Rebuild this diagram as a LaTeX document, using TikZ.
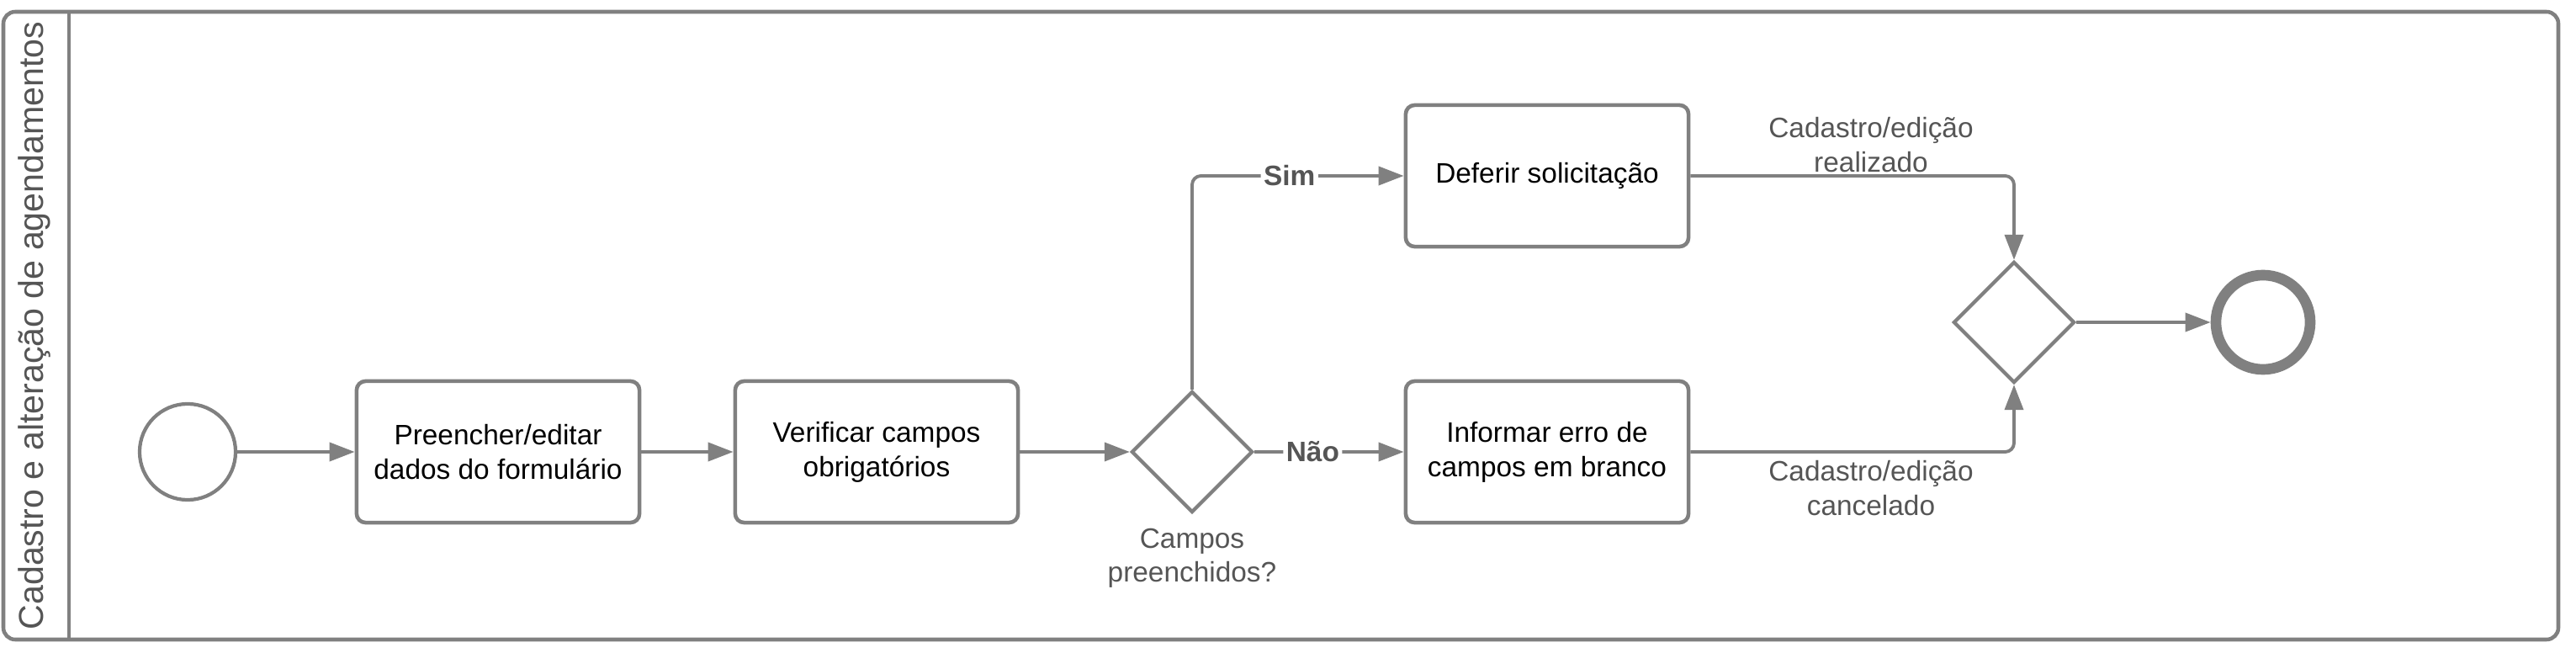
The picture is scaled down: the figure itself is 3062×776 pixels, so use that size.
\documentclass[tikz,border=0pt]{standalone}
\usepackage{fontspec}
\setmainfont{Liberation Sans}
\usetikzlibrary{positioning, calc, arrows.meta, shapes.geometric}
\definecolor{lanegray}{RGB}{128, 128, 128}
\definecolor{textgray}{RGB}{85, 85, 85}

\begin{document}
\begin{tikzpicture}[
                x=0.01cm, y=-0.01cm,
                % Style para as tarefas
                tasknode/.style={
                    rectangle, rounded corners=3pt,
                    draw=lanegray, line width=1.3pt,
                    fill=white,
                    text=black, font=\fontsize{9.5}{11.6}\selectfont,
                    align=center,
                    minimum width=3.36cm, minimum height=1.68cm, inner sep=0pt
                },
                % Style para os gateways
                gatenode/.style={
                    diamond,
                    draw=lanegray, line width=1.2pt,
                    fill=white,
                    minimum size=1.44cm, inner sep=0pt
                },
                % Eventos de inicio e fim
                startnode/.style={
                    circle, draw=lanegray, line width=1.2pt,
                    minimum size=1.14cm, inner sep=0pt
                },
                endnode/.style={
                    circle, draw=lanegray, line width=3.6pt,
                    minimum size=1.12cm, inner sep=0pt
                },
                % Style para os fluxos
                flowedge/.style={
                    -{Triangle[length=0.3cm, width=0.22cm]},
                    line width=1.1pt, color=lanegray, rounded corners=3pt
                },
                % Textos cinza
                lbl/.style={
                    text=textgray, font=\fontsize{9.5}{11.6}\selectfont,
                    align=center, inner sep=0pt
                },
                choice/.style={
                    text=textgray, font=\fontsize{9.5}{11.6}\selectfont\bfseries,
                    fill=white, inner sep=1pt
                }
            ]
                \useasboundingbox (0,0) rectangle (3062,776);

                % 1. Raia (pool)
                \draw[lanegray, line width=1.3pt, rounded corners=4pt] (4,14) rectangle (3041,760);
                \draw[lanegray, line width=1.3pt] (82,14) -- (82,760);
                \node[rotate=90, text=textgray, font=\fontsize{11.7}{14}\selectfont] (lane) at (41,387) {Cadastro e alteração de agendamentos};

                % 2. Nodes
                \node[startnode] (inicio) at (223,537) {};
                \node[tasknode] (preencher) at (592,537) {Preencher/editar\\dados do formulário};
                \node[tasknode] (verificar) at (1042,537) {Verificar campos\\obrigatórios};
                \node[gatenode] (campos) at (1417,537) {};
                \node[lbl, below=0.16cm of campos] (camposlbl) {Campos\\preenchidos?};

                \node[tasknode] (deferir) at (1839,209) {Deferir solicitação};
                \node[tasknode] (informar) at (1839,537) {Informar erro de\\campos em branco};

                \node[gatenode] (juncao) at (2394,383) {};
                \node[endnode] (fim) at (2690,383) {};

                \node[lbl] (realizado) at (2224,172) {Cadastro/edição\\realizado};
                \node[lbl] (cancelado) at (2224,580) {Cadastro/edição\\cancelado};

                % 3. Fluxos
                \draw[flowedge] (inicio) -- (preencher);
                \draw[flowedge] (preencher) -- (verificar);
                \draw[flowedge] (verificar) -- (campos);
                \draw[flowedge] (campos.north) |- node[choice, pos=0.73] {Sim} (deferir.west);
                \draw[flowedge] (campos.east) -- node[choice, pos=0.39] {Não} (informar.west);

                % 4. Juncao e fim
                \draw[flowedge] (deferir.east) -| (juncao.north);
                \draw[flowedge] (informar.east) -| (juncao.south);
                \draw[flowedge] (juncao.east) -- (fim.west);

            \end{tikzpicture}
\end{document}
